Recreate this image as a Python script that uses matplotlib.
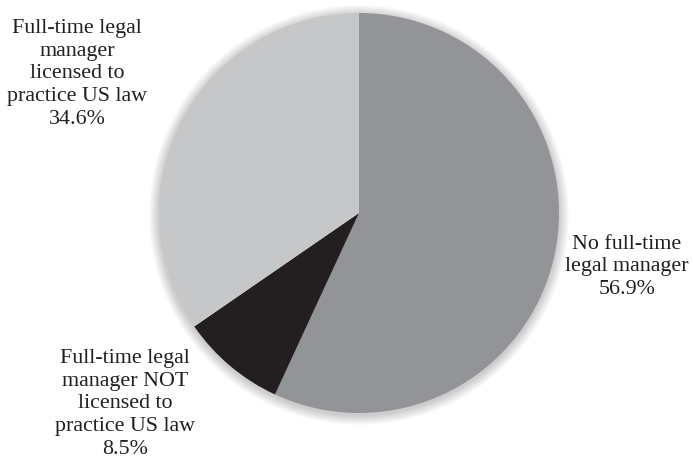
import matplotlib.pyplot as plt
from matplotlib.patches import Circle

# data
labels = ["No full-time\nlegal manager",
          "Full-time legal\nmanager NOT\nlicensed to\npractice US law",
          "Full-time legal\nmanager\nlicensed to\npractice US law"]
shares = [56.9, 8.5, 34.6]
colors = ["#939498", "#231f20", "#c6c7c9"]

plt.rcParams['font.family'] = ['Liberation Serif', 'DejaVu Serif']

fig = plt.figure(figsize=(6.94, 4.65), dpi=100)
ax = fig.add_axes([0, 0, 1, 1])

cx, cy, r = 359, 252, 200

# soft shadow round the pie
for k in range(10):
    ax.add_patch(Circle((cx, cy - 2), r + 1 + k, color="black",
                        alpha=0.018, lw=0, zorder=0))

ax.pie(shares, colors=colors, startangle=90, counterclock=False,
       center=(cx, cy), radius=r, frame=True,
       wedgeprops=dict(linewidth=0))
ax.set_xlim(0, 694)
ax.set_ylim(0, 465)
ax.set_aspect('equal')
ax.axis('off')

# label positions (pixels from top-left)
label_pos = [(627, 267), (125, 404), (77, 74)]
for lab, val, (x, y) in zip(labels, shares, label_pos):
    ax.text(x, 465 - y, "{}\n{:.1f}%".format(lab, val), ha="center", va="center",
            fontsize=15.8, linespacing=1.27, color="#231f20")

plt.savefig("out.png", dpi=100)
